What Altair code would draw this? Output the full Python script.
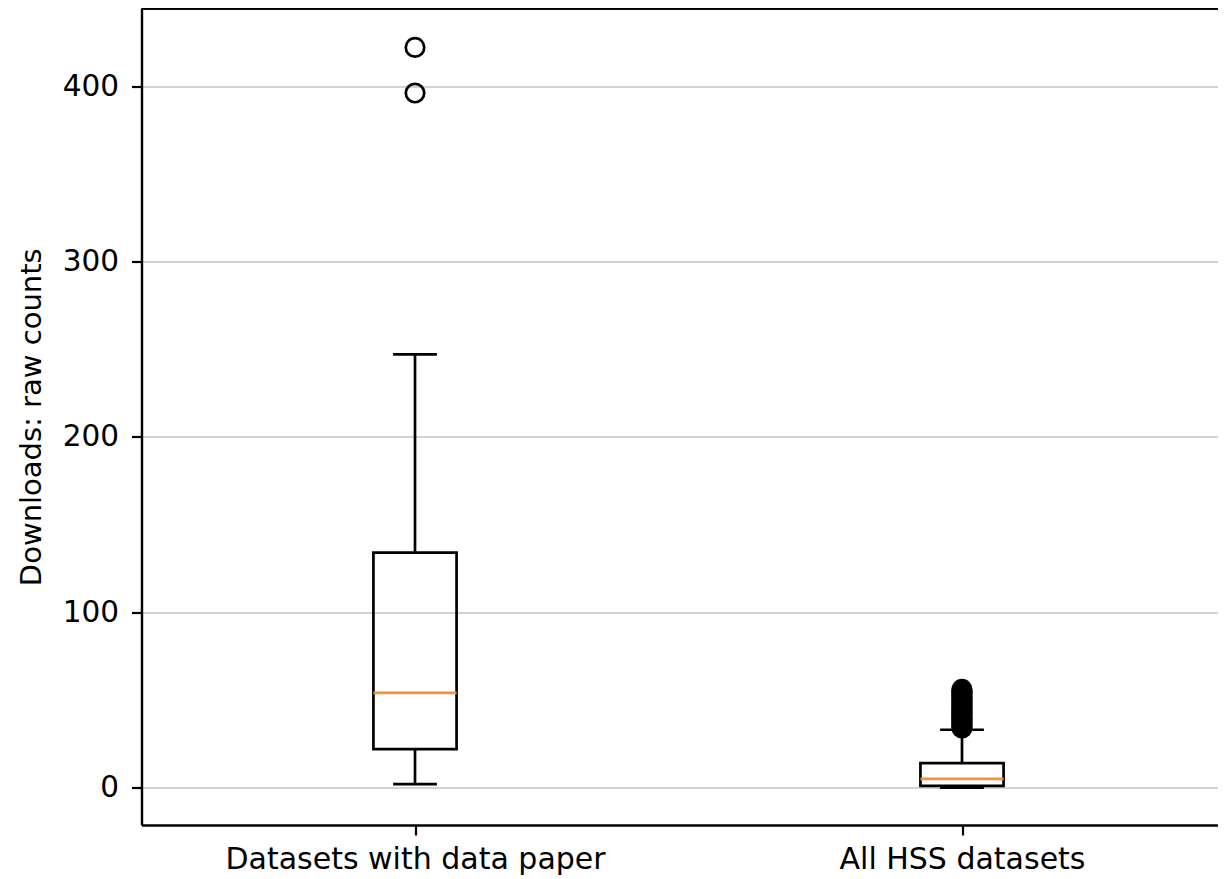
import altair as alt
import pandas as pd

# ---- data ----
categories = ["Datasets with data paper", "All HSS datasets"]
positions = [1, 2]
whisker_low = [2, 0]
q1 = [22, 1]
median = [54, 5]
q3 = [134, 14]
whisker_high = [247, 33]
outliers_paper = [396, 422]
outliers_hss = [34, 35, 36, 37, 38, 39, 40, 41, 42, 43, 44, 45,
                46, 47, 48, 49, 50, 51, 52, 53, 54, 55, 56]
y_ticks = [0, 100, 200, 300, 400]

# ---- styling constants ----
BOX_HALF = 0.076
CAP_HALF = 0.04
FONT = "DejaVu Sans"
PLOT_W = 1076.5
PLOT_H = 816.5
LW = 2.7

box_df = pd.DataFrame({
    "cat": categories,
    "pos": positions,
    "lo": whisker_low,
    "q1": q1,
    "med": median,
    "q3": q3,
    "hi": whisker_high,
})
box_df["xl"] = box_df["pos"] - BOX_HALF
box_df["xr"] = box_df["pos"] + BOX_HALF
box_df["cl"] = box_df["pos"] - CAP_HALF
box_df["cr"] = box_df["pos"] + CAP_HALF

out_df = pd.DataFrame({
    "pos": [positions[0]] * len(outliers_paper) + [positions[1]] * len(outliers_hss),
    "value": outliers_paper + outliers_hss,
})

x_scale = alt.Scale(domain=[0.5, 2.468], nice=False, zero=False)
y_scale = alt.Scale(domain=[-21.3, 444.2], nice=False, zero=False)

label_expr = "''"
for p, c in reversed(list(zip(positions, categories))):
    label_expr = f"datum.value == {p} ? '{c}' : {label_expr}"

x_axis = alt.Axis(values=positions, labelExpr=label_expr, labelFontSize=30,
                  labelFont=FONT, labelColor="black", labelLimit=0,
                  tickSize=10, tickWidth=2.2,
                  tickColor="black", labelPadding=9, domainColor="black",
                  domainWidth=2.4, grid=False, title=None)
y_axis = alt.Axis(values=y_ticks, format="d", labelFontSize=29.5, labelFont=FONT,
                  labelColor="black", labelLimit=0, tickSize=10, tickWidth=2.2,
                  tickColor="black",
                  labelPadding=13, domainColor="black", domainWidth=2.4,
                  grid=True, gridColor="#d3d3d3", gridWidth=1.8,
                  title="Downloads: raw counts", titleFont=FONT, titleFontSize=29,
                  titleFontWeight="normal", titleColor="black", titlePadding=16)


def X(field):
    return alt.X(field, scale=x_scale, axis=x_axis)


def Y(field):
    return alt.Y(field, scale=y_scale, axis=y_axis)


base = alt.Chart(box_df)

box = base.mark_rect(fillOpacity=0, stroke="black", strokeWidth=LW).encode(
    x=X("xl:Q"), x2="xr:Q", y=Y("q1:Q"), y2="q3:Q",
)
whisk_lo = base.mark_rule(color="black", strokeWidth=LW).encode(
    x=X("pos:Q"), y=Y("lo:Q"), y2="q1:Q",
)
whisk_hi = base.mark_rule(color="black", strokeWidth=LW).encode(
    x=X("pos:Q"), y=Y("q3:Q"), y2="hi:Q",
)
cap_lo = base.mark_rule(color="black", strokeWidth=LW).encode(
    x=X("cl:Q"), x2="cr:Q", y=Y("lo:Q"),
)
cap_hi = base.mark_rule(color="black", strokeWidth=LW).encode(
    x=X("cl:Q"), x2="cr:Q", y=Y("hi:Q"),
)
med = base.mark_rule(color="#f0913c", strokeWidth=LW).encode(
    x=X("xl:Q"), x2="xr:Q", y=Y("med:Q"),
)
outl = alt.Chart(out_df).mark_point(shape="circle", filled=False, size=340,
                                    stroke="black", strokeWidth=LW, opacity=1).encode(
    x=X("pos:Q"), y=Y("value:Q"),
)
top_spine = base.mark_rule(color="black", strokeWidth=2.4).encode(
    x=alt.value(0), x2=alt.value(PLOT_W), y=alt.value(0),
)

chart = alt.layer(box, whisk_lo, whisk_hi, cap_lo, cap_hi, med, outl, top_spine).properties(
    width=PLOT_W,
    height=PLOT_H,
    autosize=alt.AutoSizeParams(type="none"),
    padding={"left": 133.5, "top": 0.5, "right": 0, "bottom": 53},
    background="white",
).configure_view(strokeWidth=0)

chart.save("out.html", embed_options={"renderer": "svg", "actions": False})
